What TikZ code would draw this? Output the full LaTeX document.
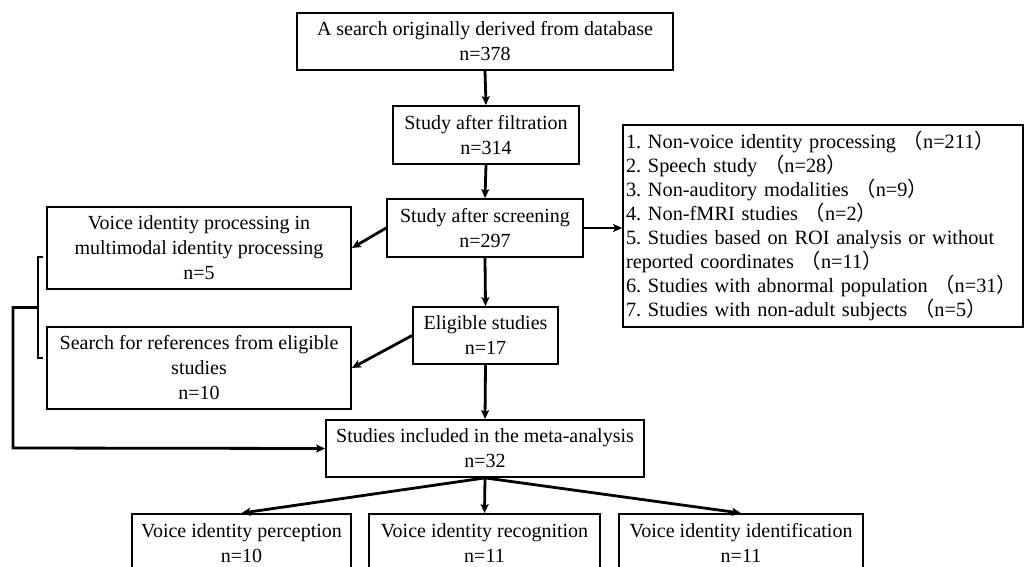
\documentclass[tikz,border=0pt]{standalone}
\usepackage{fontspec}
\setmainfont{Liberation Serif}
\newfontfamily\cjk{Noto Sans CJK SC}
\usetikzlibrary{arrows.meta,calc}
\newcommand{\lp}{{\cjk （}}
\newcommand{\rp}{{\cjk ）}}
\frenchspacing
\begin{document}
\begin{tikzpicture}[x=1pt,y=-1pt,
  box/.style={draw=black,line width=1.8pt,align=center,inner sep=0pt,
    font=\fontsize{20}{25}\selectfont},
  conn/.style={line width=2.8pt,-{Stealth[length=9pt,width=8pt,inset=2pt]}},
  brk/.style={line width=2.8pt},
]
\useasboundingbox (0,0) rectangle (1026,567);
\begin{scope}
\clip (0,0) rectangle (1026,567);
\node[box,minimum width=376pt,minimum height=57pt] (top) at (485,41.5)
  {A search originally derived from database\\n=378};
\node[box,minimum width=186pt,minimum height=58pt] (filt) at (486,135)
  {Study after filtration\\n=314};
\node[box,minimum width=196pt,minimum height=58pt] (scr) at (485,228)
  {Study after screening\\n=297};
\node[box,minimum width=400pt,minimum height=202pt,align=left,inner xsep=3pt,
  font=\fontsize{20.3}{24}\selectfont,text width=394pt] (excl) at (823,226)
  {1. Non-voice identity processing \lp n=211\rp\\
   2. Speech study \lp n=28\rp\\
   3. Non-auditory modalities \lp n=9\rp\\
   4. Non-fMRI studies \lp n=2\rp\\
   5. Studies based on ROI analysis or without\\
   reported coordinates \lp n=11\rp\\
   6. Studies with abnormal population \lp n=31\rp\\
   7. Studies with non-adult subjects \lp n=5\rp};
\node[box,minimum width=304pt,minimum height=82pt] (multi) at (199,248)
  {Voice identity processing in\\multimodal identity processing\\n=5};
\node[box,minimum width=304pt,minimum height=82pt] (refs) at (199,368)
  {Search for references from eligible\\studies\\n=10};
\node[box,minimum width=145pt,minimum height=57pt] (elig) at (485.5,335.5)
  {Eligible studies\\n=17};
\node[box,minimum width=318pt,minimum height=57pt] (meta) at (485,448.5)
  {Studies included in the meta-analysis\\n=32};
\node[box,minimum width=219pt,minimum height=58pt] (perc) at (241.5,543)
  {Voice identity perception\\n=10};
\node[box,minimum width=231pt,minimum height=58pt] (reco) at (484.5,543)
  {Voice identity recognition\\n=11};
\node[box,minimum width=244pt,minimum height=58pt] (iden) at (741,543)
  {Voice identity identification\\n=11};

\draw[conn] (top.south) -- (filt.north);
\draw[conn] (filt.south) -- (scr.north);
\draw[conn] (scr.east) -- (excl.west |- scr.east);
\draw[conn] (scr.west) -- (multi.east);
\draw[conn] (scr.south) -- (elig.north);
\draw[conn] (elig.west) -- (refs.east);
\draw[conn] (elig.south) -- (meta.north);
\draw[conn] (meta.south) -- (perc.north);
\draw[conn] (meta.south) -- (reco.north);
\draw[conn] (meta.south) -- (iden.north);

\coordinate (bt) at (43,257);
\coordinate (bb) at (43,358);
\coordinate (bm) at (38,307.5);
\coordinate (bl) at (13,448);
\draw[brk] (bt) -- (38,257) -- (38,358) -- (bb);
\draw[conn] (bm) -- (13,307.5) -- (bl) -- (meta.west);
\end{scope}
\end{tikzpicture}
\end{document}
